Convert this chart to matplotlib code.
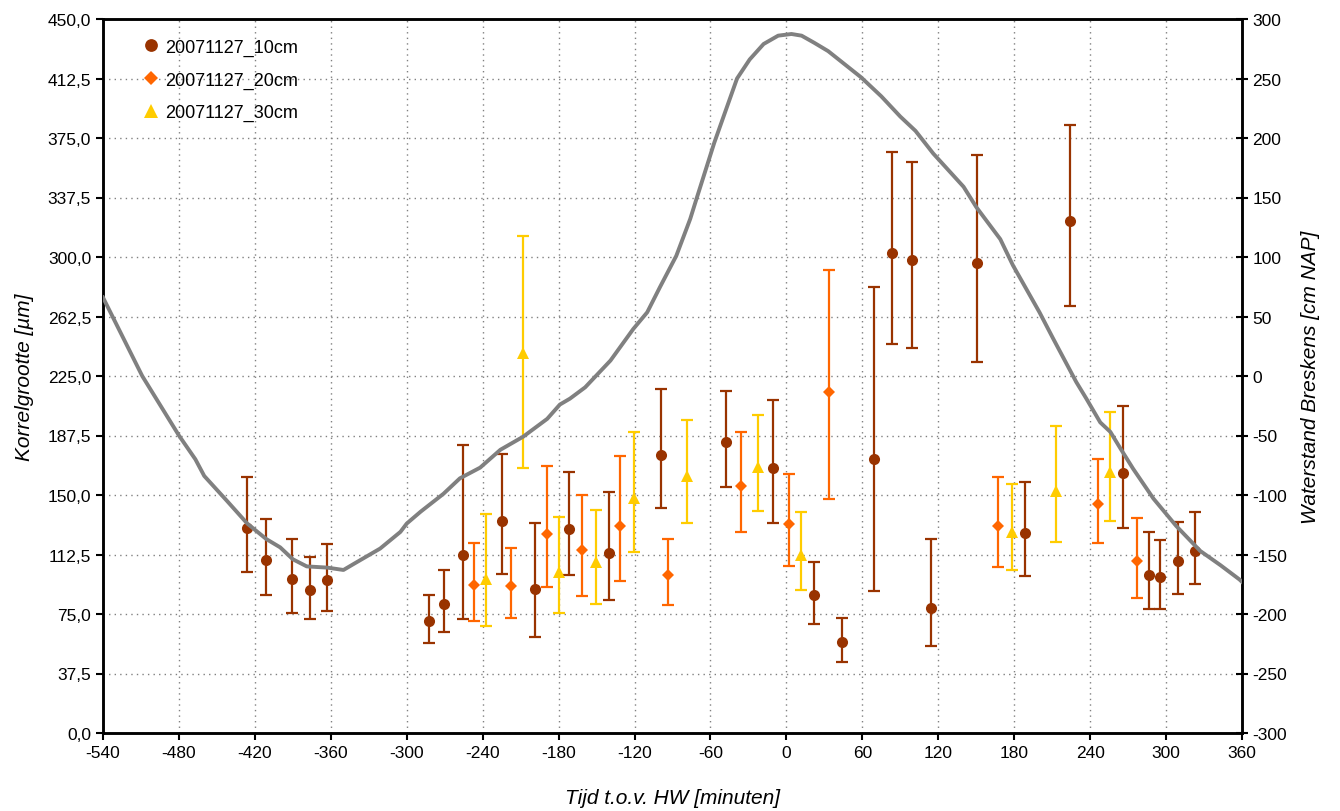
import matplotlib
matplotlib.use("Agg")
import matplotlib.pyplot as plt
import numpy as np
from matplotlib.ticker import FixedLocator, FuncFormatter

plt.rcParams['font.family'] = ['Liberation Sans', 'DejaVu Sans']
plt.rcParams['axes.unicode_minus'] = False

# ---- data ----
t10 = [-426.5, -411.5, -390.7, -376.7, -362.7, -282.5, -270.5, -255.5, -224.5, -198.7,
       -171.5, -140.5, -99.3, -47.7, -10.6, 22.0, 44.2, 69.2, 83.4, 99.2,
       114.2, 150.3, 188.5, 224.1, 266.2, 286.2, 295.2, 309.2, 323.1]
v10 = [129.0, 109.2, 97.3, 89.9, 96.6, 70.6, 81.3, 112.5, 133.8, 90.8,
       128.3, 113.4, 175.2, 183.2, 167.0, 87.0, 57.4, 172.8, 302.5, 298.1,
       78.8, 296.0, 126.3, 322.7, 163.9, 99.8, 98.1, 108.4, 114.9]
lo10 = [101.7, 87.2, 75.6, 71.8, 76.9, 56.9, 63.9, 72.0, 100.4, 60.7,
        99.8, 84.0, 142.0, 155.0, 132.4, 68.7, 44.7, 89.5, 245.2, 242.8,
        54.8, 233.8, 98.9, 269.1, 129.2, 78.1, 78.1, 87.8, 93.9]
hi10 = [161.3, 134.9, 122.5, 111.1, 119.1, 87.2, 102.9, 181.7, 176.0, 132.4,
        164.7, 151.9, 216.8, 215.5, 209.9, 107.8, 72.5, 281.1, 366.4, 360.1,
        122.3, 364.3, 158.5, 383.4, 206.3, 126.7, 121.6, 133.0, 139.0]

t20 = [-246.6, -217.6, -189.4, -161.8, -131.5, -93.6, -35.6, 2.0, 33.6, 167.2, 246.2, 277.0]
v20 = [93.3, 92.4, 125.4, 115.3, 130.5, 99.6, 155.7, 131.9, 214.7, 130.7, 144.1, 108.1]
lo20 = [70.8, 72.7, 92.2, 86.5, 95.8, 80.9, 126.7, 105.4, 147.7, 104.6, 119.7, 85.1]
hi20 = [119.7, 116.6, 168.5, 150.0, 174.6, 122.3, 189.7, 163.2, 291.8, 161.3, 172.6, 135.7]

t30 = [-237.1, -208.1, -179.7, -150.5, -120.4, -78.6, -22.7, 11.3, 178.2, 213.2, 255.4]
v30 = [97.1, 239.5, 101.3, 107.5, 147.9, 161.8, 167.4, 112.2, 126.9, 152.7, 164.7]
lo30 = [67.6, 167.2, 75.8, 81.5, 114.3, 132.4, 140.1, 90.1, 102.9, 120.4, 133.6]
hi30 = [138.0, 313.4, 136.3, 140.7, 189.7, 197.3, 200.7, 139.3, 156.9, 193.7, 202.3]

tide_t = [-540, -509, -480, -467, -460, -442, -426, -411, -400, -390, -379, -363, -350,
          -342, -321, -305, -300, -289, -271, -258, -242, -226, -208, -189, -179, -171,
          -159, -139, -121, -110, -100, -87, -79, -76, -71, -57, -39, -29, -18, -6.5,
          4, 12, 22, 33, 46, 59, 75, 90, 102, 116, 140, 150, 169, 179, 200, 211, 229,
          237, 248, 256, 264, 274, 290, 308, 327, 343, 358, 360]
tide_v = [66, 0, -50, -70, -84, -105, -124, -137, -144, -154, -160, -161, -163,
          -158, -145, -131, -124, -114, -99, -86, -77, -62, -51, -36, -24, -19,
          -9.5, 13, 39.5, 53.5, 74.5, 101, 123.5, 132, 149, 196, 250, 266, 279, 286,
          287.4, 286, 280, 273, 262, 251, 235, 218, 206, 187, 159, 142, 115, 93, 53.5, 31, -5,
          -19, -39, -47, -61, -78, -103, -126, -147, -159, -171, -173]

labels = ["20071127_10cm", "20071127_20cm", "20071127_30cm"]
xticks = list(range(-540, 361, 60))
lticks = [i * 37.5 for i in range(13)]
rticks = list(range(-300, 301, 50))

c10, c20, c30 = '#993300', '#FF6600', '#FFCC00'

fig = plt.figure(figsize=(13.4, 8.12), dpi=100)
ax = fig.add_axes([103/1340, 78/812, (1242-103)/1340, (734-20)/812])

def eb(t, v, lo, hi, color, marker, ms, label):
    v = np.array(v); lo = np.array(lo); hi = np.array(hi)
    ax.errorbar(t, v, yerr=[v - lo, hi - v], fmt='none', ecolor=color,
                elinewidth=1.6, capsize=4, capthick=1.6, zorder=3)
    ax.plot(t, v, linestyle='none', marker=marker, color=color, markersize=ms,
            markeredgewidth=0, label=label, zorder=4)

eb(t10, v10, lo10, hi10, c10, 'o', 8, labels[0])
eb(t20, v20, lo20, hi20, c20, 'D', 6, labels[1])
eb(t30, v30, lo30, hi30, c30, '^', 9, labels[2])

ax.set_xlim(-540, 360)
ax.set_ylim(0, 450)
ax.xaxis.set_major_locator(FixedLocator(xticks))
ax.yaxis.set_major_locator(FixedLocator(lticks))
ax.yaxis.set_major_formatter(FuncFormatter(lambda v, p: f"{v:.1f}".replace('.', ',')))
ax.grid(True, color='#808080', linestyle=(0, (1, 3)), linewidth=1.0, zorder=0)
ax.tick_params(axis='both', labelsize=12.5, direction='out', length=5, width=1.5, colors='black')
for s in ax.spines.values():
    s.set_linewidth(1.8)
    s.set_color('black')
ax.set_xlabel("Tijd t.o.v. HW [minuten]", fontsize=15, style='italic', labelpad=20)
ax.set_ylabel("Korrelgrootte [µm]", fontsize=15, style='italic', labelpad=10)

ax2 = ax.twinx()
ax2.plot(tide_t, tide_v, color='#808080', linewidth=2.8, zorder=5)
ax2.set_ylim(-300, 300)
ax2.yaxis.set_major_locator(FixedLocator(rticks))
ax2.tick_params(axis='y', labelsize=12.5, direction='inout', length=8, width=1.5, colors='black')
for s in ax2.spines.values():
    s.set_linewidth(1.8)
ax2.set_ylabel("Waterstand Breskens [cm NAP]", fontsize=15, style='italic', labelpad=10)

leg = ax.legend(loc='upper left', bbox_to_anchor=(0.025, 0.99), frameon=False, fontsize=13,
                labelspacing=0.85, handlelength=0.8, handletextpad=0.35, borderaxespad=0.3,
                markerscale=1.15)

fig.savefig("out.png", dpi=100)
